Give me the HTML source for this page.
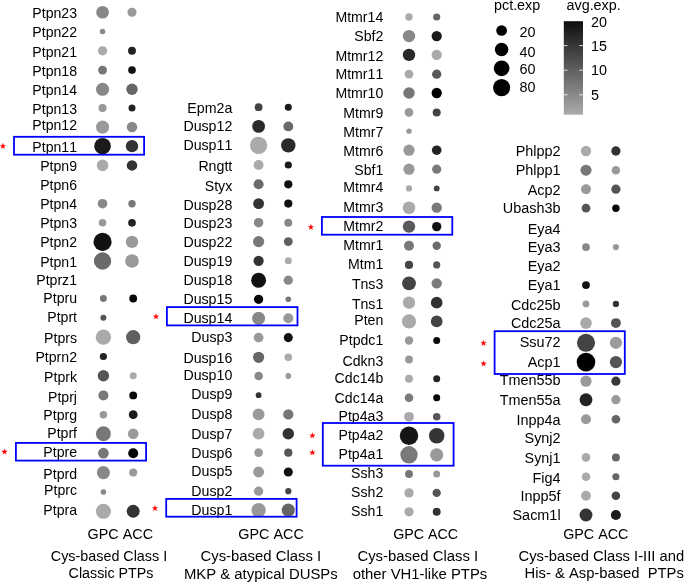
<!DOCTYPE html>
<html><head><meta charset="utf-8"><title>dot plot</title><style>
html,body{margin:0;padding:0;background:#fff;}
body{width:685px;height:582px;overflow:hidden;font-family:"Liberation Sans",sans-serif;}
svg{display:block;will-change:transform;}
text{font-family:"Liberation Sans",sans-serif;font-kerning:none;fill:#000;}
</style></head><body>
<svg width="685" height="582" viewBox="0 0 685 582">

<g fill="#000">
<text x="77" y="17.9" font-size="14.1" text-anchor="end">Ptpn23</text>
<text x="77" y="36.9" font-size="14.1" text-anchor="end">Ptpn22</text>
<text x="77" y="56.8" font-size="14.1" text-anchor="end">Ptpn21</text>
<text x="77" y="75.5" font-size="14.1" text-anchor="end">Ptpn18</text>
<text x="77" y="94.85" font-size="14.1" text-anchor="end">Ptpn14</text>
<text x="77" y="113.75" font-size="14.1" text-anchor="end">Ptpn13</text>
<text x="77" y="130.35" font-size="14.1" text-anchor="end">Ptpn12</text>
<text x="77" y="151.9" font-size="14.1" text-anchor="end">Ptpn11</text>
<text x="77" y="171" font-size="14.1" text-anchor="end">Ptpn9</text>
<text x="77" y="190.3" font-size="14.1" text-anchor="end">Ptpn6</text>
<text x="77" y="208.75" font-size="14.1" text-anchor="end">Ptpn4</text>
<text x="77" y="227.7" font-size="14.1" text-anchor="end">Ptpn3</text>
<text x="77" y="246.9" font-size="14.1" text-anchor="end">Ptpn2</text>
<text x="77" y="266.9" font-size="14.1" text-anchor="end">Ptpn1</text>
<text x="77" y="285.3" font-size="14.1" text-anchor="end">Ptprz1</text>
<text x="77" y="302.95" font-size="14.1" text-anchor="end">Ptpru</text>
<text x="77" y="321.55" font-size="14.1" text-anchor="end">Ptprt</text>
<text x="77" y="342.75" font-size="14.1" text-anchor="end">Ptprs</text>
<text x="77" y="361.95" font-size="14.1" text-anchor="end">Ptprn2</text>
<text x="77" y="382.05" font-size="14.1" text-anchor="end">Ptprk</text>
<text x="77" y="401.7" font-size="14.1" text-anchor="end">Ptprj</text>
<text x="77" y="419.75" font-size="14.1" text-anchor="end">Ptprg</text>
<text x="77" y="437.85" font-size="14.1" text-anchor="end">Ptprf</text>
<text x="77" y="456.95" font-size="14.1" text-anchor="end">Ptpre</text>
<text x="77" y="478.75" font-size="14.1" text-anchor="end">Ptprd</text>
<text x="77" y="494.85" font-size="14.1" text-anchor="end">Ptprc</text>
<text x="77" y="514.65" font-size="14.1" text-anchor="end">Ptpra</text>
<text x="232.3" y="112.55" font-size="14.19" text-anchor="end">Epm2a</text>
<text x="232.3" y="130.7" font-size="14.19" text-anchor="end">Dusp12</text>
<text x="232.3" y="149.85" font-size="14.19" text-anchor="end">Dusp11</text>
<text x="232.3" y="170.95" font-size="14.19" text-anchor="end">Rngtt</text>
<text x="232.3" y="190.8" font-size="14.19" text-anchor="end">Styx</text>
<text x="232.3" y="209.55" font-size="14.19" text-anchor="end">Dusp28</text>
<text x="232.3" y="227.95" font-size="14.19" text-anchor="end">Dusp23</text>
<text x="232.3" y="247.4" font-size="14.19" text-anchor="end">Dusp22</text>
<text x="232.3" y="266.45" font-size="14.19" text-anchor="end">Dusp19</text>
<text x="232.3" y="284.55" font-size="14.19" text-anchor="end">Dusp18</text>
<text x="232.3" y="303.85" font-size="14.19" text-anchor="end">Dusp15</text>
<text x="232.3" y="323.05" font-size="14.19" text-anchor="end">Dusp14</text>
<text x="232.3" y="341.95" font-size="14.19" text-anchor="end">Dusp3</text>
<text x="232.3" y="363.1" font-size="14.19" text-anchor="end">Dusp16</text>
<text x="232.3" y="379.85" font-size="14.19" text-anchor="end">Dusp10</text>
<text x="232.3" y="398.9" font-size="14.19" text-anchor="end">Dusp9</text>
<text x="232.3" y="418.8" font-size="14.19" text-anchor="end">Dusp8</text>
<text x="232.3" y="438.75" font-size="14.19" text-anchor="end">Dusp7</text>
<text x="232.3" y="457.65" font-size="14.19" text-anchor="end">Dusp6</text>
<text x="232.3" y="475.85" font-size="14.19" text-anchor="end">Dusp5</text>
<text x="232.3" y="496" font-size="14.19" text-anchor="end">Dusp2</text>
<text x="232.3" y="514.7" font-size="14.19" text-anchor="end">Dusp1</text>
<text x="383.25" y="21.85" font-size="14.11" text-anchor="end">Mtmr14</text>
<text x="383.25" y="41.25" font-size="14.11" text-anchor="end">Sbf2</text>
<text x="383.25" y="61.05" font-size="14.11" text-anchor="end">Mtmr12</text>
<text x="383.25" y="79.45" font-size="14.11" text-anchor="end">Mtmr11</text>
<text x="383.25" y="98.05" font-size="14.11" text-anchor="end">Mtmr10</text>
<text x="383.25" y="117.5" font-size="14.11" text-anchor="end">Mtmr9</text>
<text x="383.25" y="136.85" font-size="14.11" text-anchor="end">Mtmr7</text>
<text x="383.25" y="155.9" font-size="14.11" text-anchor="end">Mtmr6</text>
<text x="383.25" y="174.65" font-size="14.11" text-anchor="end">Sbf1</text>
<text x="383.25" y="192.45" font-size="14.11" text-anchor="end">Mtmr4</text>
<text x="383.25" y="212.25" font-size="14.11" text-anchor="end">Mtmr3</text>
<text x="383.25" y="231.35" font-size="14.11" text-anchor="end">Mtmr2</text>
<text x="383.25" y="250.25" font-size="14.11" text-anchor="end">Mtmr1</text>
<text x="383.25" y="269.2" font-size="14.11" text-anchor="end">Mtm1</text>
<text x="383.25" y="288.7" font-size="14.11" text-anchor="end">Tns3</text>
<text x="383.25" y="309.1" font-size="14.11" text-anchor="end">Tns1</text>
<text x="383.25" y="325.1" font-size="14.11" text-anchor="end">Pten</text>
<text x="383.25" y="345" font-size="14.11" text-anchor="end">Ptpdc1</text>
<text x="383.25" y="366" font-size="14.11" text-anchor="end">Cdkn3</text>
<text x="383.25" y="382.7" font-size="14.11" text-anchor="end">Cdc14b</text>
<text x="383.25" y="403.05" font-size="14.11" text-anchor="end">Cdc14a</text>
<text x="383.25" y="420.65" font-size="14.11" text-anchor="end">Ptp4a3</text>
<text x="383.25" y="440.25" font-size="14.11" text-anchor="end">Ptp4a2</text>
<text x="383.25" y="459.2" font-size="14.11" text-anchor="end">Ptp4a1</text>
<text x="383.25" y="477.9" font-size="14.11" text-anchor="end">Ssh3</text>
<text x="383.25" y="497.45" font-size="14.11" text-anchor="end">Ssh2</text>
<text x="383.25" y="516.15" font-size="14.11" text-anchor="end">Ssh1</text>
<text x="560.6" y="155.55" font-size="14.43" text-anchor="end">Phlpp2</text>
<text x="560.6" y="175.25" font-size="14.43" text-anchor="end">Phlpp1</text>
<text x="560.6" y="194.65" font-size="14.43" text-anchor="end">Acp2</text>
<text x="560.6" y="212.65" font-size="14.43" text-anchor="end">Ubash3b</text>
<text x="560.6" y="234.15" font-size="14.43" text-anchor="end">Eya4</text>
<text x="560.6" y="252.15" font-size="14.43" text-anchor="end">Eya3</text>
<text x="560.6" y="270.95" font-size="14.43" text-anchor="end">Eya2</text>
<text x="560.6" y="289.95" font-size="14.43" text-anchor="end">Eya1</text>
<text x="560.6" y="309.75" font-size="14.43" text-anchor="end">Cdc25b</text>
<text x="560.6" y="328.15" font-size="14.43" text-anchor="end">Cdc25a</text>
<text x="560.6" y="346.7" font-size="14.43" text-anchor="end">Ssu72</text>
<text x="560.6" y="366.95" font-size="14.43" text-anchor="end">Acp1</text>
<text x="560.6" y="385.35" font-size="14.43" text-anchor="end">Tmen55b</text>
<text x="560.6" y="404.9" font-size="14.43" text-anchor="end">Tmen55a</text>
<text x="560.6" y="424.65" font-size="14.43" text-anchor="end">Inpp4a</text>
<text x="560.6" y="443.05" font-size="14.43" text-anchor="end">Synj2</text>
<text x="560.6" y="463.05" font-size="14.43" text-anchor="end">Synj1</text>
<text x="560.6" y="483.25" font-size="14.43" text-anchor="end">Fig4</text>
<text x="560.6" y="501.25" font-size="14.43" text-anchor="end">Inpp5f</text>
<text x="560.6" y="519.65" font-size="14.43" text-anchor="end">Sacm1l</text>
<text x="87.56" y="539.4" font-size="14.404">GPC ACC</text>
<text x="50.87" y="560.9" font-size="14.345">Cys-based Class I</text>
<text x="68.6" y="577.9" font-size="14.297">Classic PTPs</text>
<text x="238.22" y="539.4" font-size="14.404">GPC ACC</text>
<text x="200.51" y="560.9" font-size="14.892">Cys-based Class I</text>
<text x="183.93" y="578.9" font-size="14.881">MKP &amp; atypical DUSPs</text>
<text x="393.23" y="539.4" font-size="14.249">GPC ACC</text>
<text x="357.43" y="561.1" font-size="14.892">Cys-based Class I</text>
<text x="352.68" y="578.8" font-size="14.86">other VH1-like PTPs</text>
<text x="563.18" y="539.4" font-size="14.342">GPC ACC</text>
<text x="518.5" y="561" font-size="14.75">Cys-based Class I-III and</text>
<text x="524.61" y="578.4" font-size="14.784">His- &amp; Asp-based&#160; PTPs</text>
</g>
<circle cx="102.55" cy="12.2" r="6.3" fill="#888"/>
<circle cx="132" cy="12.2" r="4.55" fill="#999"/>
<circle cx="102.55" cy="31.5" r="2.7" fill="#888"/>
<circle cx="102.55" cy="50.8" r="4.65" fill="#aaa"/>
<circle cx="132" cy="50.8" r="3.95" fill="#222"/>
<circle cx="102.55" cy="70.1" r="4.45" fill="#777"/>
<circle cx="132" cy="70.1" r="3.85" fill="#111"/>
<circle cx="102.55" cy="89.3" r="6.55" fill="#888"/>
<circle cx="132" cy="89.3" r="5.7" fill="#666"/>
<circle cx="102.55" cy="108.1" r="4.05" fill="#999"/>
<circle cx="132" cy="108.1" r="3.5" fill="#222"/>
<circle cx="102.55" cy="127.1" r="6.55" fill="#999"/>
<circle cx="132" cy="127.1" r="5.25" fill="#888"/>
<circle cx="102.55" cy="146.2" r="8.3" fill="#1a1a1a"/>
<circle cx="132" cy="146.2" r="6.15" fill="#333"/>
<circle cx="102.55" cy="165.4" r="5.8" fill="#aaa"/>
<circle cx="132" cy="165.4" r="5.25" fill="#333"/>
<circle cx="102.55" cy="203.7" r="4.8" fill="#888"/>
<circle cx="132" cy="203.7" r="3.7" fill="#777"/>
<circle cx="102.55" cy="222.8" r="3.75" fill="#999"/>
<circle cx="132" cy="222.8" r="3.85" fill="#222"/>
<circle cx="102.55" cy="241.9" r="9.1" fill="#111"/>
<circle cx="132" cy="241.9" r="6.2" fill="#999"/>
<circle cx="102.55" cy="261" r="8.65" fill="#6a6a6a"/>
<circle cx="132" cy="261" r="6.85" fill="#999"/>
<circle cx="103.4" cy="298.5" r="3.45" fill="#777"/>
<circle cx="133.2" cy="298.5" r="3.9" fill="#050505"/>
<circle cx="103.4" cy="317.7" r="3" fill="#555"/>
<circle cx="103.4" cy="337.2" r="7.65" fill="#aaa"/>
<circle cx="133.2" cy="337.2" r="7.1" fill="#606060"/>
<circle cx="103.4" cy="356.5" r="3.6" fill="#222"/>
<circle cx="103.4" cy="375.7" r="5.7" fill="#555"/>
<circle cx="133.2" cy="375.7" r="3.5" fill="#aaa"/>
<circle cx="103.4" cy="395.4" r="5" fill="#777"/>
<circle cx="133.2" cy="395.4" r="3.95" fill="#080808"/>
<circle cx="103.4" cy="414.7" r="3.75" fill="#999"/>
<circle cx="133.2" cy="414.7" r="4.4" fill="#1a1a1a"/>
<circle cx="103.4" cy="433.8" r="7.45" fill="#777"/>
<circle cx="133.2" cy="433.8" r="5.25" fill="#999"/>
<circle cx="103.4" cy="453.2" r="5.35" fill="#777"/>
<circle cx="133.2" cy="453.2" r="5" fill="#050505"/>
<circle cx="103.4" cy="472.6" r="6.55" fill="#888"/>
<circle cx="133.2" cy="472.6" r="4" fill="#999"/>
<circle cx="103.4" cy="492" r="2.8" fill="#888"/>
<circle cx="103.4" cy="511.3" r="7.55" fill="#aaa"/>
<circle cx="133.2" cy="511.3" r="6.45" fill="#333"/>
<circle cx="258.6" cy="107.2" r="3.9" fill="#444"/>
<circle cx="288.3" cy="107.2" r="3.5" fill="#1a1a1a"/>
<circle cx="258.6" cy="126.4" r="6.4" fill="#2a2a2a"/>
<circle cx="288.3" cy="126.4" r="4.95" fill="#6a6a6a"/>
<circle cx="258.6" cy="145.4" r="8.65" fill="#aaa"/>
<circle cx="288.3" cy="145.4" r="7.2" fill="#2a2a2a"/>
<circle cx="258.6" cy="165" r="4.95" fill="#aaa"/>
<circle cx="288.3" cy="165" r="3.6" fill="#1a1a1a"/>
<circle cx="258.6" cy="184.3" r="5.05" fill="#6a6a6a"/>
<circle cx="288.3" cy="184.3" r="4.1" fill="#111"/>
<circle cx="258.6" cy="203.6" r="5.45" fill="#333"/>
<circle cx="288.3" cy="203.6" r="4.1" fill="#111"/>
<circle cx="258.6" cy="222.7" r="4.75" fill="#888"/>
<circle cx="288.3" cy="222.7" r="3.95" fill="#888"/>
<circle cx="258.6" cy="241.6" r="5.6" fill="#777"/>
<circle cx="288.3" cy="241.6" r="4.45" fill="#5f5f5f"/>
<circle cx="258.6" cy="260.8" r="5.15" fill="#333"/>
<circle cx="288.3" cy="260.8" r="3.5" fill="#aaa"/>
<circle cx="258.6" cy="280.2" r="7.5" fill="#111"/>
<circle cx="288.3" cy="280.2" r="4.65" fill="#888"/>
<circle cx="258.6" cy="299.3" r="4.65" fill="#050505"/>
<circle cx="288.3" cy="299.3" r="2.8" fill="#777"/>
<circle cx="258.6" cy="318.3" r="6.5" fill="#888"/>
<circle cx="288.3" cy="318.3" r="5" fill="#999"/>
<circle cx="258.6" cy="337.6" r="4.9" fill="#999"/>
<circle cx="288.3" cy="337.6" r="4.55" fill="#111"/>
<circle cx="258.6" cy="357.3" r="5.6" fill="#666"/>
<circle cx="288.3" cy="357.3" r="3.75" fill="#aaa"/>
<circle cx="258.6" cy="376" r="4.3" fill="#888"/>
<circle cx="288.3" cy="376" r="2.9" fill="#999"/>
<circle cx="258.6" cy="395.2" r="2.9" fill="#333"/>
<circle cx="258.6" cy="414.4" r="5.95" fill="#999"/>
<circle cx="288.3" cy="414.4" r="5.15" fill="#777"/>
<circle cx="258.6" cy="433.7" r="5.85" fill="#aaa"/>
<circle cx="288.3" cy="433.7" r="5.75" fill="#333"/>
<circle cx="258.6" cy="452.7" r="4.35" fill="#999"/>
<circle cx="288.3" cy="452.7" r="4.1" fill="#555"/>
<circle cx="258.6" cy="472" r="5.45" fill="#999"/>
<circle cx="288.3" cy="472" r="4.55" fill="#111"/>
<circle cx="258.6" cy="491.2" r="4.65" fill="#999"/>
<circle cx="288.3" cy="491.2" r="3.1" fill="#444"/>
<circle cx="258.6" cy="510.1" r="7.2" fill="#999"/>
<circle cx="288.3" cy="510.1" r="6.6" fill="#666"/>
<circle cx="409" cy="17" r="3.7" fill="#aaa"/>
<circle cx="436.7" cy="17" r="3.6" fill="#666"/>
<circle cx="409" cy="36.1" r="6.2" fill="#888"/>
<circle cx="436.7" cy="36.1" r="5.15" fill="#1a1a1a"/>
<circle cx="409" cy="54.9" r="6.2" fill="#2a2a2a"/>
<circle cx="436.7" cy="54.9" r="5.15" fill="#aaa"/>
<circle cx="409" cy="74.2" r="4.35" fill="#aaa"/>
<circle cx="436.7" cy="74.2" r="4.65" fill="#5a5a5a"/>
<circle cx="409" cy="93" r="5.75" fill="#777"/>
<circle cx="436.7" cy="93" r="5.15" fill="#000"/>
<circle cx="409" cy="112.4" r="4.35" fill="#999"/>
<circle cx="436.7" cy="112.4" r="4" fill="#444"/>
<circle cx="409" cy="131.2" r="2.65" fill="#999"/>
<circle cx="409" cy="150.2" r="5.6" fill="#999"/>
<circle cx="436.7" cy="150.2" r="4.8" fill="#222"/>
<circle cx="409" cy="169.2" r="5.6" fill="#999"/>
<circle cx="436.7" cy="169.2" r="4.6" fill="#7a7a7a"/>
<circle cx="409" cy="188.4" r="3.15" fill="#aaa"/>
<circle cx="436.7" cy="188.4" r="2.95" fill="#444"/>
<circle cx="409" cy="207.7" r="6.3" fill="#aaa"/>
<circle cx="436.7" cy="207.7" r="5.15" fill="#7a7a7a"/>
<circle cx="409" cy="226.6" r="6.2" fill="#5a5a5a"/>
<circle cx="436.7" cy="226.6" r="4.65" fill="#111"/>
<circle cx="409" cy="245.7" r="5" fill="#777"/>
<circle cx="436.7" cy="245.7" r="4.2" fill="#6a6a6a"/>
<circle cx="409" cy="264.9" r="4.1" fill="#444"/>
<circle cx="436.7" cy="264.9" r="3.6" fill="#555"/>
<circle cx="409" cy="283.3" r="6.9" fill="#444"/>
<circle cx="436.7" cy="283.3" r="5.15" fill="#7a7a7a"/>
<circle cx="409" cy="302.7" r="6.2" fill="#aaa"/>
<circle cx="436.7" cy="302.7" r="5.85" fill="#333"/>
<circle cx="409" cy="321.4" r="7.1" fill="#aaa"/>
<circle cx="436.7" cy="321.4" r="5.85" fill="#444"/>
<circle cx="409" cy="340.5" r="4.2" fill="#999"/>
<circle cx="436.7" cy="340.5" r="3.5" fill="#0a0a0a"/>
<circle cx="409" cy="359.5" r="3.95" fill="#999"/>
<circle cx="409" cy="378.7" r="3.95" fill="#aaa"/>
<circle cx="436.7" cy="378.7" r="3.5" fill="#222"/>
<circle cx="409" cy="397.8" r="4.3" fill="#7a7a7a"/>
<circle cx="436.7" cy="397.8" r="3.5" fill="#050505"/>
<circle cx="409" cy="416.8" r="4.9" fill="#aaa"/>
<circle cx="436.7" cy="416.8" r="3.75" fill="#555"/>
<circle cx="409" cy="435.7" r="9.25" fill="#151515"/>
<circle cx="436.7" cy="435.7" r="7.75" fill="#353535"/>
<circle cx="409" cy="454.8" r="8.7" fill="#7a7a7a"/>
<circle cx="436.7" cy="454.8" r="6.6" fill="#999"/>
<circle cx="409" cy="474" r="3.95" fill="#777"/>
<circle cx="436.7" cy="474" r="3.5" fill="#999"/>
<circle cx="409" cy="492.9" r="4.65" fill="#aaa"/>
<circle cx="436.7" cy="492.9" r="4.2" fill="#555"/>
<circle cx="409" cy="511.8" r="4.65" fill="#aaa"/>
<circle cx="436.7" cy="511.8" r="4" fill="#333"/>
<circle cx="586" cy="151" r="5.15" fill="#aaa"/>
<circle cx="615.9" cy="151" r="4.65" fill="#333"/>
<circle cx="586" cy="170.2" r="5.55" fill="#777"/>
<circle cx="615.9" cy="170.2" r="4.25" fill="#999"/>
<circle cx="586" cy="189.2" r="4.95" fill="#999"/>
<circle cx="615.9" cy="189.2" r="4.65" fill="#555"/>
<circle cx="586" cy="208.2" r="4.35" fill="#555"/>
<circle cx="615.9" cy="208.2" r="3.7" fill="#000"/>
<circle cx="586" cy="247.1" r="3.9" fill="#888"/>
<circle cx="615.9" cy="247.1" r="3.1" fill="#999"/>
<circle cx="586" cy="285.1" r="3.9" fill="#111"/>
<circle cx="586" cy="303.9" r="3.35" fill="#999"/>
<circle cx="615.9" cy="303.9" r="3.15" fill="#333"/>
<circle cx="586" cy="323.1" r="5.85" fill="#aaa"/>
<circle cx="615.9" cy="323.1" r="4.95" fill="#555"/>
<circle cx="586" cy="342.8" r="9.05" fill="#444"/>
<circle cx="615.9" cy="342.8" r="6.1" fill="#9a9a9a"/>
<circle cx="586" cy="362.1" r="9.3" fill="#000"/>
<circle cx="615.9" cy="362.1" r="6.1" fill="#555"/>
<circle cx="586" cy="381.2" r="5.6" fill="#999"/>
<circle cx="615.9" cy="381.2" r="4.6" fill="#383838"/>
<circle cx="586" cy="399.7" r="6.45" fill="#222"/>
<circle cx="615.9" cy="399.7" r="4.6" fill="#999"/>
<circle cx="586" cy="419.2" r="4.95" fill="#999"/>
<circle cx="615.9" cy="419.2" r="4.3" fill="#666"/>
<circle cx="586" cy="457.4" r="4.3" fill="#aaa"/>
<circle cx="615.9" cy="457.4" r="4" fill="#666"/>
<circle cx="586" cy="476.8" r="4.3" fill="#aaa"/>
<circle cx="615.9" cy="476.8" r="3.55" fill="#666"/>
<circle cx="586" cy="495.8" r="4.95" fill="#aaa"/>
<circle cx="615.9" cy="495.8" r="4.3" fill="#444"/>
<circle cx="586" cy="515" r="6.45" fill="#333"/>
<circle cx="615.9" cy="515" r="5.05" fill="#1a1a1a"/>
<rect x="14" y="136.8" width="130.1" height="17.9" fill="none" stroke="#0000ff" stroke-width="1.8"/>
<rect x="15.9" y="442.9" width="130.2" height="17.7" fill="none" stroke="#0000ff" stroke-width="1.8"/>
<rect x="166.9" y="307.1" width="130.6" height="18.3" fill="none" stroke="#0000ff" stroke-width="1.8"/>
<rect x="166.2" y="498.9" width="130.4" height="17.8" fill="none" stroke="#0000ff" stroke-width="1.8"/>
<rect x="321.9" y="217" width="130.4" height="17.7" fill="none" stroke="#0000ff" stroke-width="1.8"/>
<rect x="322.8" y="423" width="130.8" height="42.7" fill="none" stroke="#0000ff" stroke-width="1.8"/>
<rect x="494.6" y="331.2" width="130.2" height="42.8" fill="none" stroke="#0000ff" stroke-width="1.8"/>
<polygon points="2.9,143.3 3.61,145.23 5.66,145.3 4.04,146.57 4.6,148.55 2.9,147.4 1.2,148.55 1.76,146.57 0.14,145.3 2.19,145.23" fill="#ff0000" stroke="#ff0000" stroke-width="0.3" stroke-linejoin="round"/>
<polygon points="4.5,448.9 5.21,450.83 7.26,450.9 5.64,452.17 6.2,454.15 4.5,453 2.8,454.15 3.36,452.17 1.74,450.9 3.79,450.83" fill="#ff0000" stroke="#ff0000" stroke-width="0.3" stroke-linejoin="round"/>
<polygon points="156,313.7 156.71,315.63 158.76,315.7 157.14,316.97 157.7,318.95 156,317.8 154.3,318.95 154.86,316.97 153.24,315.7 155.29,315.63" fill="#ff0000" stroke="#ff0000" stroke-width="0.3" stroke-linejoin="round"/>
<polygon points="155,505.5 155.71,507.43 157.76,507.5 156.14,508.77 156.7,510.75 155,509.6 153.3,510.75 153.86,508.77 152.24,507.5 154.29,507.43" fill="#ff0000" stroke="#ff0000" stroke-width="0.3" stroke-linejoin="round"/>
<polygon points="310.9,224.3 311.61,226.23 313.66,226.3 312.04,227.57 312.6,229.55 310.9,228.4 309.2,229.55 309.76,227.57 308.14,226.3 310.19,226.23" fill="#ff0000" stroke="#ff0000" stroke-width="0.3" stroke-linejoin="round"/>
<polygon points="312.4,432.7 313.11,434.63 315.16,434.7 313.54,435.97 314.1,437.95 312.4,436.8 310.7,437.95 311.26,435.97 309.64,434.7 311.69,434.63" fill="#ff0000" stroke="#ff0000" stroke-width="0.3" stroke-linejoin="round"/>
<polygon points="312.4,449.7 313.11,451.63 315.16,451.7 313.54,452.97 314.1,454.95 312.4,453.8 310.7,454.95 311.26,452.97 309.64,451.7 311.69,451.63" fill="#ff0000" stroke="#ff0000" stroke-width="0.3" stroke-linejoin="round"/>
<polygon points="483.6,340.3 484.31,342.23 486.36,342.3 484.74,343.57 485.3,345.55 483.6,344.4 481.9,345.55 482.46,343.57 480.84,342.3 482.89,342.23" fill="#ff0000" stroke="#ff0000" stroke-width="0.3" stroke-linejoin="round"/>
<polygon points="483.6,360.8 484.31,362.73 486.36,362.8 484.74,364.07 485.3,366.05 483.6,364.9 481.9,366.05 482.46,364.07 480.84,362.8 482.89,362.73" fill="#ff0000" stroke="#ff0000" stroke-width="0.3" stroke-linejoin="round"/>
<text x="494" y="9.75" font-size="14.35">pct.exp</text>
<circle cx="501.6" cy="30.5" r="5.35" fill="#000"/>
<text x="519.5" y="36.9" font-size="14.35">20</text>
<circle cx="501.6" cy="49.6" r="6.75" fill="#000"/>
<text x="519.5" y="56.5" font-size="14.35">40</text>
<circle cx="501.6" cy="68.3" r="7.85" fill="#000"/>
<text x="519.5" y="74.3" font-size="14.35">60</text>
<circle cx="501.6" cy="87.6" r="8.55" fill="#000"/>
<text x="519.5" y="92.3" font-size="14.35">80</text>
<text x="566.5" y="9.75" font-size="14.35">avg.exp.</text>
<linearGradient id="cb" x1="0" y1="0" x2="0" y2="1"><stop offset="0" stop-color="#0d0d0d"/><stop offset="1" stop-color="#ababab"/></linearGradient>
<rect x="563.8" y="21.2" width="19.2" height="93.5" fill="url(#cb)"/>
<path d="M563.8 45.6h3.8M579.2 45.6h3.8" stroke="#fff" stroke-width="0.8"/>
<path d="M563.8 70.2h3.8M579.2 70.2h3.8" stroke="#fff" stroke-width="0.8"/>
<path d="M563.8 94.8h3.8M579.2 94.8h3.8" stroke="#fff" stroke-width="0.8"/>
<text x="591" y="26.8" font-size="14.35">20</text>
<text x="591" y="50.7" font-size="14.35">15</text>
<text x="591" y="75.3" font-size="14.35">10</text>
<text x="591" y="99.9" font-size="14.35">5</text>
</svg></body></html>
